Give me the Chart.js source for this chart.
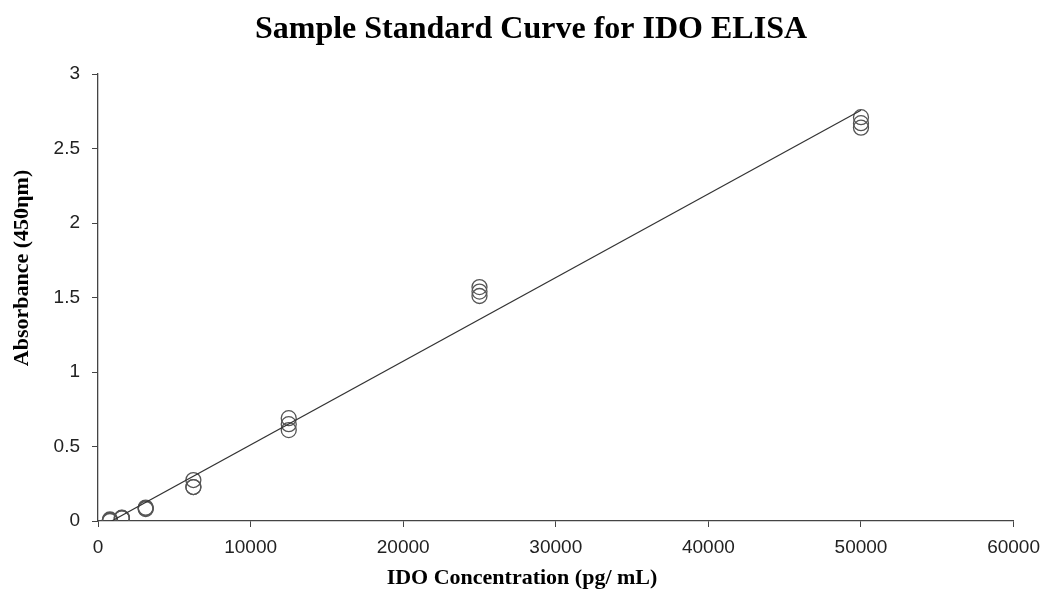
<!DOCTYPE html>
<html>
<head>
<meta charset="utf-8">
<script src="https://cdn.jsdelivr.net/npm/chart.js@4/dist/chart.umd.min.js"></script>
<style>
  html, body { margin: 0; padding: 0; background: #fff; }
  #wrap { width: 1049px; height: 592px; position: relative; }
</style>
</head>
<body>
<div id="wrap"><canvas id="chart"></canvas></div>
<script>
// standard concentrations (pg/mL) and replicate absorbance readings
const concentrations = [50000, 25000, 12500, 6250, 3125, 1562.5, 781.25];
const rep1 = [2.71, 1.57, 0.69, 0.275, 0.080, 0.020, 0.000];
const rep2 = [2.67, 1.54, 0.65, 0.228, 0.085, 0.022, 0.010];
const rep3 = [2.64, 1.51, 0.61, 0.228, 0.090, 0.018, 0.005];

const xTicks = [0, 10000, 20000, 30000, 40000, 50000, 60000];
const yTicks = [0, 0.5, 1, 1.5, 2, 2.5, 3];

const chartTitle = 'Sample Standard Curve for IDO ELISA';
const xTitle = 'IDO Concentration (pg/ mL)';
const yTitle = 'Absorbance (450ηm)';

const points = [];
[rep1, rep2, rep3].forEach(r => r.forEach((y, i) => points.push({ x: concentrations[i], y })));

// linear least-squares trendline
const n = points.length;
const mx = points.reduce((s, p) => s + p.x, 0) / n;
const my = points.reduce((s, p) => s + p.y, 0) / n;
let sxy = 0, sxx = 0;
points.forEach(p => { sxy += (p.x - mx) * (p.y - my); sxx += (p.x - mx) ** 2; });
const slope = sxy / sxx;
const intercept = my - slope * mx;
const xMin = Math.min(...concentrations), xMax = Math.max(...concentrations);
const trend = [xMin, xMax].map(x => ({ x, y: slope * x + intercept }));

const tickFont = { family: "'Liberation Sans', Arial, sans-serif", size: 19 };
const serif = "'Liberation Serif', 'Times New Roman', serif";

// titles are drawn off-centre in the original, so place them by hand
const titlesPlugin = {
  id: 'titles',
  afterDraw(chart) {
    const ctx = chart.ctx;
    ctx.save();
    ctx.fillStyle = '#000';
    ctx.textAlign = 'center';
    ctx.textBaseline = 'middle';
    ctx.font = `bold 32px ${serif}`;
    ctx.fillText(chartTitle, 531, 30);
    ctx.font = `bold 22px ${serif}`;
    ctx.fillText(xTitle, 522, 578);
    ctx.translate(22, 268);
    ctx.rotate(-Math.PI / 2);
    ctx.fillText(yTitle, 0, 0);
    ctx.restore();
  },
};

new Chart(document.getElementById('chart'), {
  type: 'scatter',
  data: {
    datasets: [
      {
        label: 'Standards', data: points,
        pointStyle: 'circle', pointRadius: 7.5, pointBorderWidth: 1.3,
        pointBorderColor: '#555', pointBackgroundColor: 'rgba(0,0,0,0)',
        order: 2,
      },
      {
        label: 'Linear', data: trend, type: 'line', showLine: true,
        borderColor: '#333', borderWidth: 1.2, pointRadius: 0, fill: false,
        order: 1,
      },
    ],
  },
  plugins: [titlesPlugin],
  options: {
    responsive: true, maintainAspectRatio: false, animation: false,
    layout: { padding: { left: 0, right: 32, top: 74, bottom: 0 } },
    plugins: {
      legend: { display: false },
      tooltip: { enabled: false },
      title: { display: false },
    },
    scales: {
      x: {
        type: 'linear', min: 0, max: 60000,
        afterBuildTicks: s => { s.ticks = xTicks.map(v => ({ value: v })); },
        afterFit: s => { s.height = 71; },
        grid: { drawOnChartArea: false, drawTicks: true, tickLength: 6, color: '#444' },
        border: { color: '#444', width: 1.3 },
        ticks: { color: '#222', font: tickFont, padding: 9, maxRotation: 0, callback: v => String(v) },
      },
      y: {
        type: 'linear', min: 0, max: 3,
        afterBuildTicks: s => { s.ticks = yTicks.map(v => ({ value: v })); },
        afterFit: s => { s.width = 98; },
        grid: { drawOnChartArea: false, drawTicks: true, tickLength: 6, color: '#444' },
        border: { color: '#444', width: 1.3 },
        ticks: { color: '#222', font: tickFont, padding: 12, callback: v => String(v) },
      },
    },
  },
});
</script>
</body>
</html>
